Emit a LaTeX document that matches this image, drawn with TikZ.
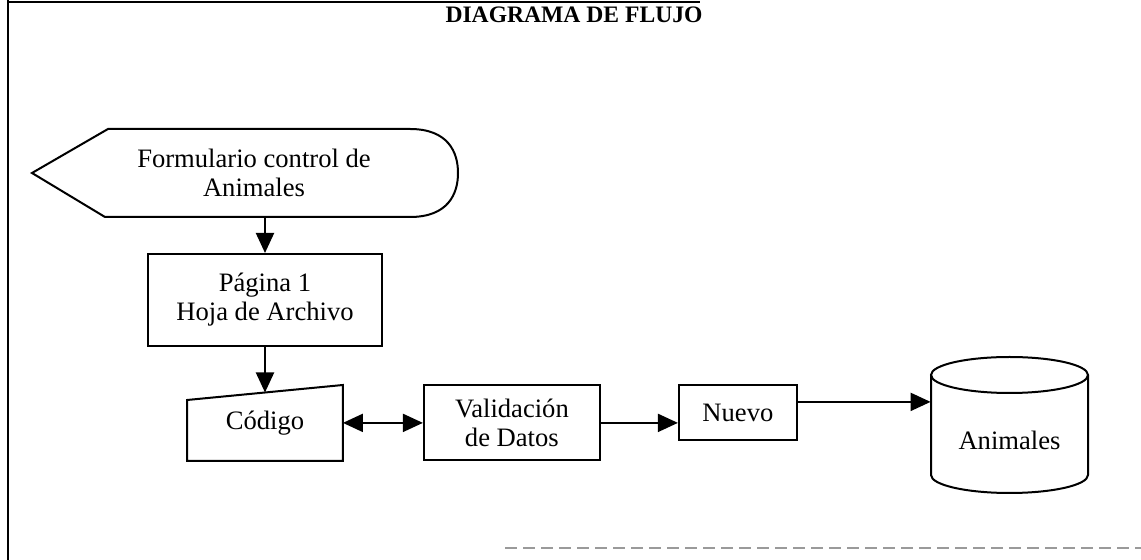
\documentclass[tikz,border=0pt]{standalone}
\usepackage{fontspec}
\setmainfont{Liberation Serif}
\usepackage{tikz}
\usetikzlibrary{arrows.meta,positioning,calc}
\definecolor{ink}{HTML}{000000}
\definecolor{scan}{HTML}{9A9A9A}
\newcommand{\bodyfont}{\fontsize{13.3}{14.5}\selectfont}
\tikzset{
  box/.style={rectangle, draw=ink, fill=white, line width=1pt, align=center, inner sep=2pt, font=\bodyfont},
  bare/.style={rectangle, draw=none, align=center, inner sep=2pt, font=\bodyfont},
  outline/.style={draw=ink, line width=1pt, line join=miter},
  flow/.style={-{Triangle[length=10pt,width=9pt]}, draw=ink, line width=1pt},
  bothflow/.style={{Triangle[length=10pt,width=9pt]}-{Triangle[length=10pt,width=9pt]}, draw=ink, line width=1pt},
  frame/.style={draw=ink, line width=0.9pt},
  ttl/.style={font=\bfseries\fontsize{11.8}{13}\selectfont, inner sep=0pt},
}

\begin{document}
\begin{tikzpicture}[x=0.5pt, y=-0.5pt]
\useasboundingbox[fill=white] (0,0) rectangle (1141,560);
% page frame of the scan
\draw[frame] (8,0) -- (8,560);
\draw[frame] (8,2) -- (700,2);
\draw[scan, line width=0.6pt, dash pattern=on 6pt off 3pt] (505,548) -- (1141,548);

\node[ttl] (title) at (574,15) {DIAGRAMA DE FLUJO};

% input screen
\draw[outline] (32,173) -- (108,129) -- (410,129) .. controls (448,129) and (458,152) .. (458,173)
  .. controls (458,194) and (448,217) .. (410,217) -- (105,217) -- cycle;
\node[bare, minimum height=44pt] (form) at (254,173) {Formulario control de\\Animales};

\node[box, minimum width=117pt, minimum height=46pt] (pag) at (265,300) {Página 1\\Hoja de Archivo};
\node[bare, minimum width=77.5pt, minimum height=37.5pt, below=19pt of pag] (cod) {Código};
\draw[outline] ([yshift=-7.5pt]cod.north west) -- (cod.north east) -- (cod.south east) -- (cod.south west) -- cycle;
\coordinate (codtop) at ([yshift=-3.75pt]cod.north);
\node[box, minimum width=88pt, minimum height=37.5pt, right=40pt of cod] (val) {Validación\\de Datos};
\node[box, minimum width=59pt, minimum height=27.5pt, right=38.5pt of val, yshift=5pt] (nuevo) {Nuevo};

% data store
\draw[outline] (931,375) -- (931,475) arc[start angle=180, end angle=360, x radius=39.25pt, y radius=9pt] -- (1088,375);
\draw[outline] (1009.5,375) ellipse[x radius=39.25pt, y radius=9pt];
\node[bare, minimum width=78.5pt, minimum height=53pt] (anim) at (1009.5,440) {Animales};

\draw[flow] (form.south -| pag.north) -- (pag.north);
\draw[flow] (pag.south) -- (pag.south |- codtop);
\draw[bothflow] (cod.east) -- (cod.east -| val.west);
\draw[flow] (val.east) -- (val.east -| nuevo.west);
\draw[flow] ([yshift=5.5pt]nuevo.east) coordinate (nv) -- (nv -| anim.west);
\end{tikzpicture}
\end{document}
